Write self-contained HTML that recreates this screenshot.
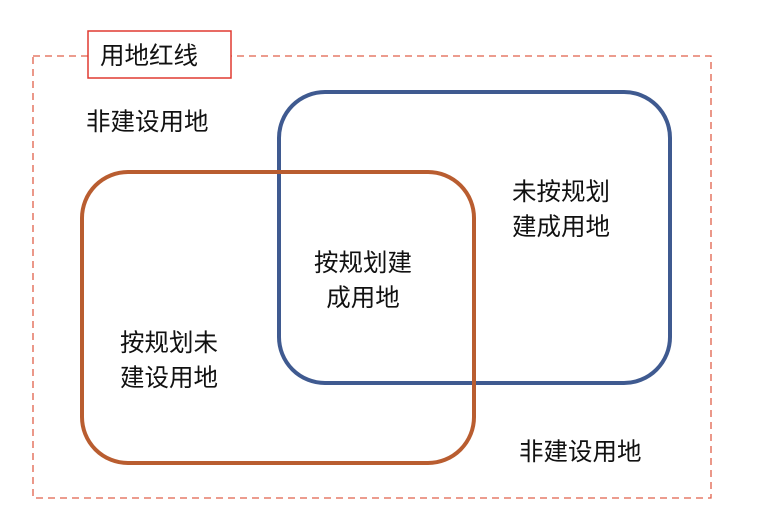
<!DOCTYPE html>
<html><head><meta charset="utf-8"><style>
html,body{margin:0;padding:0;background:#fff;}
body{width:781px;height:513px;overflow:hidden;}
text{font-family:"Liberation Sans","Noto Sans CJK SC",sans-serif;font-size:24.5px;fill:#111;}
</style></head><body>
<svg width="781" height="513" xmlns="http://www.w3.org/2000/svg">
<rect x="33" y="56" width="678" height="442" fill="none" stroke="#e0604a" stroke-width="1.3" stroke-dasharray="7,5"/>
<rect x="88" y="31" width="143" height="47" fill="#fff" stroke="#e03a30" stroke-width="1.5"/>
<text x="100" y="64">用地红线</text>
<rect x="279" y="92" width="391" height="291" rx="46" fill="none" stroke="#3f5a90" stroke-width="4"/>
<rect x="82" y="172" width="392" height="291" rx="46" fill="none" stroke="#b95d30" stroke-width="4"/>
<text x="86" y="130">非建设用地</text>
<text x="512" y="200">未按规划</text>
<text x="512" y="235">建成用地</text>
<text x="363" y="271" text-anchor="middle">按规划建</text>
<text x="363" y="306" text-anchor="middle">成用地</text>
<text x="120" y="351">按规划未</text>
<text x="120" y="386">建设用地</text>
<text x="519" y="460">非建设用地</text>
</svg>
</body></html>
